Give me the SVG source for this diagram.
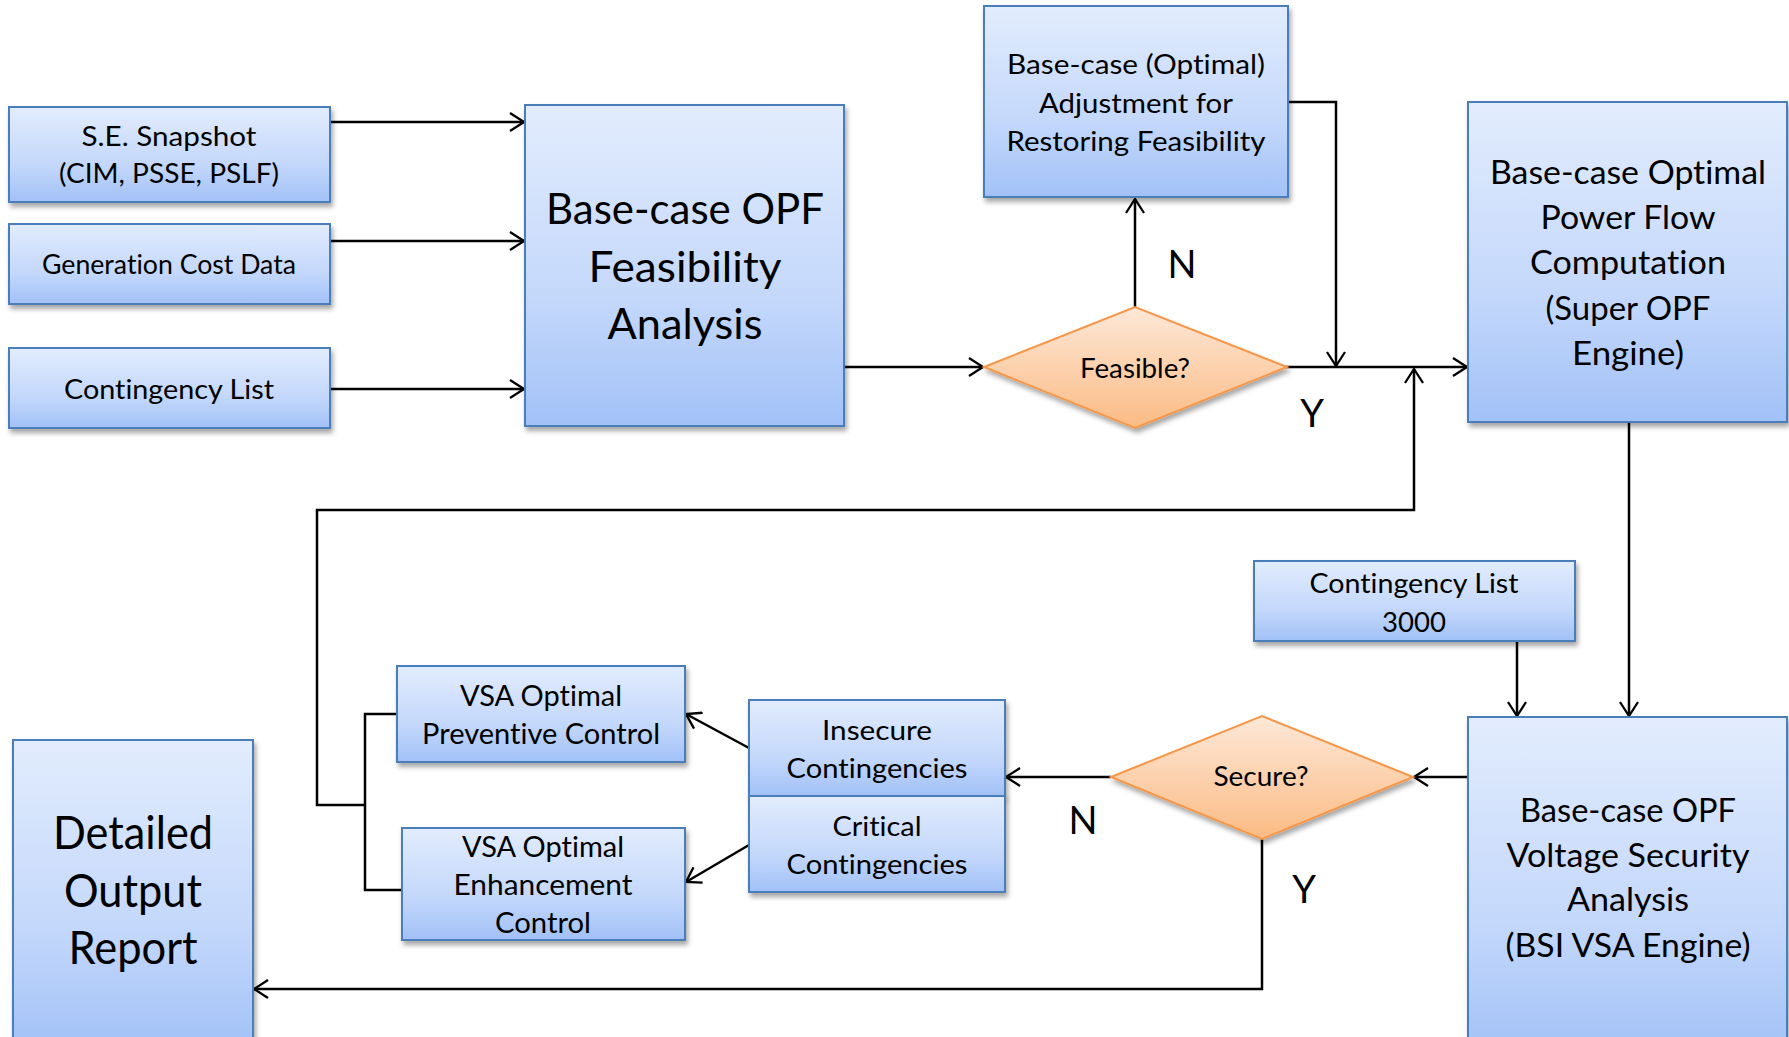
<svg xmlns="http://www.w3.org/2000/svg" width="1789" height="1037" viewBox="0 0 1789 1037">
  <defs>
    <linearGradient id="blueFill" x1="0" y1="0" x2="0" y2="1">
      <stop offset="0" stop-color="#e2ecfd"/>
      <stop offset="0.6" stop-color="#c4d8fb"/>
      <stop offset="1" stop-color="#a2c1f7"/>
    </linearGradient>
    <linearGradient id="orangeFill" x1="0" y1="0" x2="0" y2="1">
      <stop offset="0" stop-color="#fde8d8"/>
      <stop offset="1" stop-color="#fbbb84"/>
    </linearGradient>
    <filter id="shadow" x="-10%" y="-10%" width="130%" height="130%">
      <feDropShadow dx="2" dy="4" stdDeviation="2.5" flood-color="#000" flood-opacity="0.35"/>
    </filter>
    <marker id="arrow" viewBox="0 0 16 20" refX="15" refY="10" markerWidth="16" markerHeight="20" markerUnits="userSpaceOnUse" orient="auto">
      <path d="M1,1 L15,10 L1,19" fill="none" stroke="#000" stroke-width="2.3"/>
    </marker>
  </defs>
  <style>
    .box { fill: url(#blueFill); stroke: #4a7ebb; stroke-width: 2; filter: url(#shadow); }
    .dia { fill: url(#orangeFill); stroke: #f79646; stroke-width: 2; filter: url(#shadow); }
    .t { font-family: Lato, "Liberation Sans", sans-serif; fill: #000; text-anchor: middle; font-variant-ligatures: none; font-feature-settings: "liga" 0, "clig" 0; }
    .s { font-size: 27px; }
    .xs { font-size: 26px; }
    .m { font-size: 33px; }
    .l { font-size: 42px; }
    .c { font-size: 29px; }
    .xl { font-size: 47px; }
    .yn { font-size: 38px; }
    .link { fill: none; stroke: #000; stroke-width: 2.5; }
    .arr { marker-end: url(#arrow); }
  </style>
  <rect width="1789" height="1037" fill="#fff"/>

  <g id="connectors">
    <path class="link arr" d="M330,122 H524"/>
    <path class="link arr" d="M330,241 H524"/>
    <path class="link arr" d="M330,389 H524"/>
    <path class="link arr" d="M845,367 H983"/>
    <path class="link arr" d="M1135,307 V199"/>
    <path class="link arr" d="M1288,102 H1336 V366"/>
    <path class="link arr" d="M1277,367 H1467"/>
    <path class="link" d="M397,714 H365 V890 H402"/>
    <path class="link arr" d="M365,805 H317 V510 H1414 V369"/>
    <path class="link arr" d="M1629,422 V716"/>
    <path class="link arr" d="M1517,641 V716"/>
    <path class="link arr" d="M1468,777 H1414"/>
    <path class="link arr" d="M1111,777 H1006"/>
    <path class="link arr" d="M749,748 L686,714"/>
    <path class="link arr" d="M749,845 L686,882"/>
    <path class="link arr" d="M1262,839 V989 H254"/>
  </g>

  <g id="se-snapshot">
    <rect class="box" x="9" y="107" width="321" height="95"/>
    <text class="t s" x="169" y="146" textLength="175" lengthAdjust="spacingAndGlyphs">S.E. Snapshot</text>
    <text class="t s" x="169" y="183" textLength="220" lengthAdjust="spacingAndGlyphs">(CIM, PSSE, PSLF)</text>
  </g>
  <g id="generation-cost">
    <rect class="box" x="9" y="224" width="321" height="80"/>
    <text class="t xs" x="169" y="274" textLength="254" lengthAdjust="spacingAndGlyphs">Generation Cost Data</text>
  </g>
  <g id="contingency-list">
    <rect class="box" x="9" y="348" width="321" height="80"/>
    <text class="t s" x="169" y="399" textLength="210" lengthAdjust="spacingAndGlyphs">Contingency List</text>
  </g>
  <g id="feasibility-analysis">
    <rect class="box" x="525" y="105" width="319" height="321"/>
    <text class="t l" x="685" y="224" textLength="278" lengthAdjust="spacingAndGlyphs">Base-case OPF</text>
    <text class="t l" x="685" y="282" textLength="193" lengthAdjust="spacingAndGlyphs">Feasibility</text>
    <text class="t l" x="685" y="339" textLength="155" lengthAdjust="spacingAndGlyphs">Analysis</text>
  </g>
  <g id="feasibility-adjustment">
    <rect class="box" x="984" y="6" width="304" height="191"/>
    <text class="t s" x="1136" y="74" textLength="258" lengthAdjust="spacingAndGlyphs">Base-case (Optimal)</text>
    <text class="t s" x="1136" y="113" textLength="194" lengthAdjust="spacingAndGlyphs">Adjustment for</text>
    <text class="t s" x="1136" y="151" textLength="259" lengthAdjust="spacingAndGlyphs">Restoring Feasibility</text>
  </g>
  <g id="feasible-decision">
    <polygon class="dia" points="984,367 1135,307 1287,367 1135,428"/>
    <text class="t xs" x="1135" y="378" textLength="110" lengthAdjust="spacingAndGlyphs">Feasible?</text>
  </g>
  <g id="super-opf">
    <rect class="box" x="1468" y="102" width="319" height="320"/>
    <text class="t m" x="1628" y="184" textLength="276" lengthAdjust="spacingAndGlyphs">Base-case Optimal</text>
    <text class="t m" x="1628" y="229" textLength="175" lengthAdjust="spacingAndGlyphs">Power Flow</text>
    <text class="t m" x="1628" y="274" textLength="196" lengthAdjust="spacingAndGlyphs">Computation</text>
    <text class="t m" x="1628" y="320" textLength="165" lengthAdjust="spacingAndGlyphs">(Super OPF</text>
    <text class="t m" x="1628" y="365" textLength="112" lengthAdjust="spacingAndGlyphs">Engine)</text>
  </g>
  <g id="contingency-list-3000">
    <rect class="box" x="1254" y="561" width="321" height="80"/>
    <text class="t s" x="1414" y="593" textLength="209" lengthAdjust="spacingAndGlyphs">Contingency List</text>
    <text class="t s" x="1414" y="632" textLength="64" lengthAdjust="spacingAndGlyphs">3000</text>
  </g>
  <g id="vsa-engine">
    <rect class="box" x="1468" y="717" width="319" height="340"/>
    <text class="t m" x="1628" y="822" textLength="216" lengthAdjust="spacingAndGlyphs">Base-case OPF</text>
    <text class="t m" x="1628" y="867" textLength="243" lengthAdjust="spacingAndGlyphs">Voltage Security</text>
    <text class="t m" x="1628" y="911" textLength="122" lengthAdjust="spacingAndGlyphs">Analysis</text>
    <text class="t m" x="1628" y="957" textLength="245" lengthAdjust="spacingAndGlyphs">(BSI VSA Engine)</text>
  </g>
  <g id="secure-decision">
    <polygon class="dia" points="1111,777 1262,716 1413,777 1262,839"/>
    <text class="t xs" x="1261" y="786" textLength="95" lengthAdjust="spacingAndGlyphs">Secure?</text>
  </g>
  <g id="insecure-contingencies">
    <rect class="box" x="749" y="700" width="256" height="96"/>
    <text class="t s" x="877" y="740" textLength="110" lengthAdjust="spacingAndGlyphs">Insecure</text>
    <text class="t s" x="877" y="778" textLength="181" lengthAdjust="spacingAndGlyphs">Contingencies</text>
  </g>
  <g id="critical-contingencies">
    <rect class="box" x="749" y="796" width="256" height="96"/>
    <text class="t s" x="877" y="836" textLength="89" lengthAdjust="spacingAndGlyphs">Critical</text>
    <text class="t s" x="877" y="874" textLength="181" lengthAdjust="spacingAndGlyphs">Contingencies</text>
  </g>
  <g id="preventive-control">
    <rect class="box" x="397" y="666" width="288" height="96"/>
    <text class="t c" x="541" y="706" textLength="162" lengthAdjust="spacingAndGlyphs">VSA Optimal</text>
    <text class="t c" x="541" y="744" textLength="238" lengthAdjust="spacingAndGlyphs">Preventive Control</text>
  </g>
  <g id="enhancement-control">
    <rect class="box" x="402" y="828" width="283" height="112"/>
    <text class="t c" x="543" y="857" textLength="162" lengthAdjust="spacingAndGlyphs">VSA Optimal</text>
    <text class="t c" x="543" y="895" textLength="179" lengthAdjust="spacingAndGlyphs">Enhancement</text>
    <text class="t c" x="543" y="933" textLength="96" lengthAdjust="spacingAndGlyphs">Control</text>
  </g>
  <g id="output-report">
    <rect class="box" x="13" y="740" width="240" height="310"/>
    <text class="t xl" x="133" y="849" textLength="160" lengthAdjust="spacingAndGlyphs">Detailed</text>
    <text class="t xl" x="133" y="907" textLength="138" lengthAdjust="spacingAndGlyphs">Output</text>
    <text class="t xl" x="133" y="964" textLength="129" lengthAdjust="spacingAndGlyphs">Report</text>
  </g>

  <g id="branch-labels">
    <text class="t yn" x="1182" y="278">N</text>
    <text class="t yn" x="1312" y="427">Y</text>
    <text class="t yn" x="1083" y="834">N</text>
    <text class="t yn" x="1304" y="903">Y</text>
  </g>
</svg>
